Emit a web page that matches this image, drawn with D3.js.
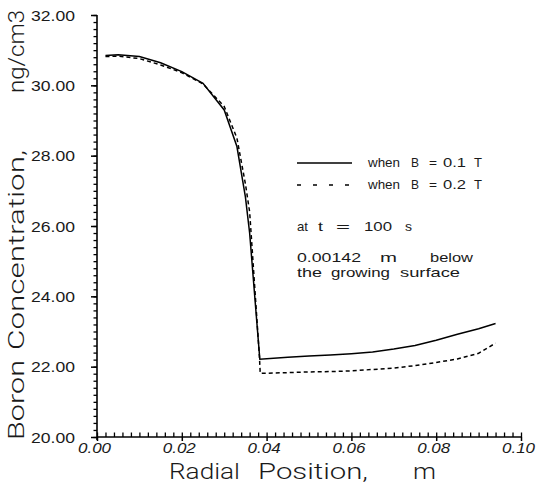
<!DOCTYPE html>
<html>
<head>
<meta charset="utf-8">
<script src="https://cdn.jsdelivr.net/npm/d3@7"></script>
<style>
  body { margin: 0; background: #fff; }
  text { font-family: "Liberation Sans", Arial, sans-serif; fill: #1a1a1a; }
  .title { font-family: Roboto, "Liberation Sans", sans-serif; font-weight: 300; }
</style>
</head>
<body>
<script>
var width = 537,
    height = 490;

// radial position (m) and concentration (ng/cm3)
var xB01 = [0.002, 0.005, 0.01, 0.015, 0.02, 0.025, 0.03, 0.033, 0.035, 0.036, 0.0384,
            0.045, 0.05, 0.055, 0.06, 0.065, 0.07, 0.075, 0.08, 0.085, 0.09, 0.094];
var yB01 = [30.85, 30.87, 30.82, 30.64, 30.39, 30.06, 29.30, 28.26, 26.83, 25.80, 22.21,
            22.27, 22.30, 22.33, 22.37, 22.42, 22.50, 22.60, 22.75, 22.92, 23.08, 23.23];

var xB02 = [0.002, 0.005, 0.01, 0.015, 0.02, 0.025, 0.03, 0.033, 0.035, 0.036, 0.0383, 0.0385,
            0.045, 0.05, 0.055, 0.06, 0.065, 0.07, 0.075, 0.08, 0.085, 0.09, 0.094];
var yB02 = [30.82, 30.83, 30.76, 30.58, 30.36, 30.04, 29.40, 28.50, 27.20, 26.40, 22.30, 21.81,
            21.83, 21.85, 21.86, 21.88, 21.92, 21.96, 22.03, 22.12, 22.22, 22.38, 22.67];

var xTicks = [0, 0.02, 0.04, 0.06, 0.08, 0.10];
var yTicks = [20, 22, 24, 26, 28, 30, 32];
var xMinor = d3.range(0, 51).map(function(i) { return i * 0.002 });
var yMinor = d3.range(0, 61).map(function(i) { return 20 + i * 0.2 });

var svg = d3.select('body')
            .append('svg')
            .attr('width', width)
            .attr('height', height)

var x = d3.scaleLinear().domain([0, 0.1]).range([97, 521])
var y = d3.scaleLinear().domain([20, 32]).range([437, 15])

// minor ticks through d3 axes
var yMinAxis = svg.append('g')
    .attr('transform', 'translate(' + x(0) + ',0)')
    .call(d3.axisLeft(y).tickValues(yMinor).tickSize(3.5).tickFormat(''))
yMinAxis.select('.domain').remove()
yMinAxis.selectAll('line').attr('stroke', 'black').attr('stroke-width', 1.3)

var xMinAxis = svg.append('g')
    .attr('transform', 'translate(0,' + y(20) + ')')
    .call(d3.axisTop(x).tickValues(xMinor).tickSize(4.5).tickFormat(''))
xMinAxis.select('.domain').remove()
xMinAxis.selectAll('line').attr('stroke', 'black').attr('stroke-width', 1.3)

// major ticks and labels
var yAxis = svg.append('g')
    .attr('transform', 'translate(' + x(0) + ',0)')
    .call(d3.axisLeft(y).tickValues(yTicks).tickSize(6).tickPadding(16)
          .tickFormat((d) => d.toFixed(2)))
yAxis.select('.domain').remove()
yAxis.selectAll('line').attr('stroke', 'black').attr('stroke-width', 1.5)
yAxis.selectAll('text')
    .attr('font-family', '"Liberation Sans", Arial, sans-serif')
    .attr('font-size', 14)
    .attr('dy', '0.36em')
    .attr('textLength', 44)
    .attr('lengthAdjust', 'spacingAndGlyphs')

var xAxis = svg.append('g')
    .attr('transform', 'translate(0,' + y(20) + ')')
    .call(d3.axisBottom(x).tickValues(xTicks).tickSize(4).tickPadding(2)
          .tickFormat((d) => d.toFixed(2)))
xAxis.select('.domain').remove()
xAxis.selectAll('line').attr('stroke', 'black').attr('stroke-width', 1.5)
xAxis.selectAll('text')
    .attr('font-family', '"Liberation Sans", Arial, sans-serif')
    .attr('font-size', 14)
    .attr('font-style', 'italic')
    .attr('dx', -3)
    .attr('textLength', 33)
    .attr('lengthAdjust', 'spacingAndGlyphs')

// axis lines
svg.append('line')
    .attr('x1', x(0)).attr('x2', x(0))
    .attr('y1', y(32)).attr('y2', y(20) + 3)
    .attr('stroke', 'black').attr('stroke-width', 1.6)
svg.append('line')
    .attr('x1', x(0)).attr('x2', x(0.1))
    .attr('y1', y(20)).attr('y2', y(20))
    .attr('stroke', 'black').attr('stroke-width', 1.6)

// axis titles, word by word: [text, start, end]
var xTitle = [['Radial', 169, 240], ['Position,', 258, 368], ['m', 413, 436]];
var yTitle = [['Boron', 440, 360], ['Concentration,', 350, 150], ['ng/cm3', 93, 10]];

svg.selectAll('text.xt')
    .data(xTitle)
    .enter().append('text')
    .attr('class', 'xt title')
    .attr('x', (d) => d[1])
    .attr('y', 479)
    .attr('font-size', 22)
    .attr('textLength', (d) => d[2] - d[1])
    .attr('lengthAdjust', 'spacingAndGlyphs')
    .text((d) => d[0])
svg.selectAll('text.yt')
    .data(yTitle)
    .enter().append('text')
    .attr('class', 'yt title')
    .attr('transform', (d) => 'translate(24,' + d[1] + ') rotate(-90)')
    .attr('font-size', 22)
    .attr('textLength', (d) => d[1] - d[2])
    .attr('lengthAdjust', 'spacingAndGlyphs')
    .text((d) => d[0])

// curves
var line = d3.line()
    .x((d) => x(d[0]))
    .y((d) => y(d[1]))

svg.append('path')
    .datum(d3.zip(xB01, yB01))
    .attr('d', line)
    .attr('fill', 'none')
    .attr('stroke', 'black')
    .attr('stroke-width', 1.5)
svg.append('path')
    .datum(d3.zip(xB02, yB02))
    .attr('d', line)
    .attr('fill', 'none')
    .attr('stroke', 'black')
    .attr('stroke-width', 1.5)
    .attr('stroke-dasharray', '4,3')

// legend and notes
svg.append('line')
    .attr('x1', 297).attr('x2', 352).attr('y1', 163).attr('y2', 163)
    .attr('stroke', 'black').attr('stroke-width', 1.5)
svg.append('line')
    .attr('x1', 297).attr('x2', 352).attr('y1', 185).attr('y2', 185)
    .attr('stroke', 'black').attr('stroke-width', 1.5)
    .attr('stroke-dasharray', '4,12')

var notes = [
  ['when', 368, 400, 167], ['B', 411, 419, 167], ['=', 429, 437, 167], ['0.1', 443, 466, 167], ['T', 474, 482, 167],
  ['when', 368, 400, 189], ['B', 411, 419, 189], ['=', 429, 437, 189], ['0.2', 443, 466, 189], ['T', 474, 482, 189],
  ['at', 297, 308, 231], ['t', 318, 323, 231], ['=', 336, 350, 231], ['100', 364, 392, 231], ['s', 405, 412, 231],
  ['0.00142', 297, 361, 262], ['m', 380, 397, 262], ['below', 430, 473, 262],
  ['the', 297, 322, 277], ['growing', 331, 390, 277], ['surface', 400, 460, 277]
];
svg.selectAll('text.note')
    .data(notes)
    .enter().append('text')
    .attr('class', 'note')
    .attr('x', (d) => d[1])
    .attr('y', (d) => d[3])
    .attr('font-size', 13)
    .attr('textLength', (d) => d[2] - d[1])
    .attr('lengthAdjust', 'spacingAndGlyphs')
    .text((d) => d[0])
</script>
</body>
</html>
